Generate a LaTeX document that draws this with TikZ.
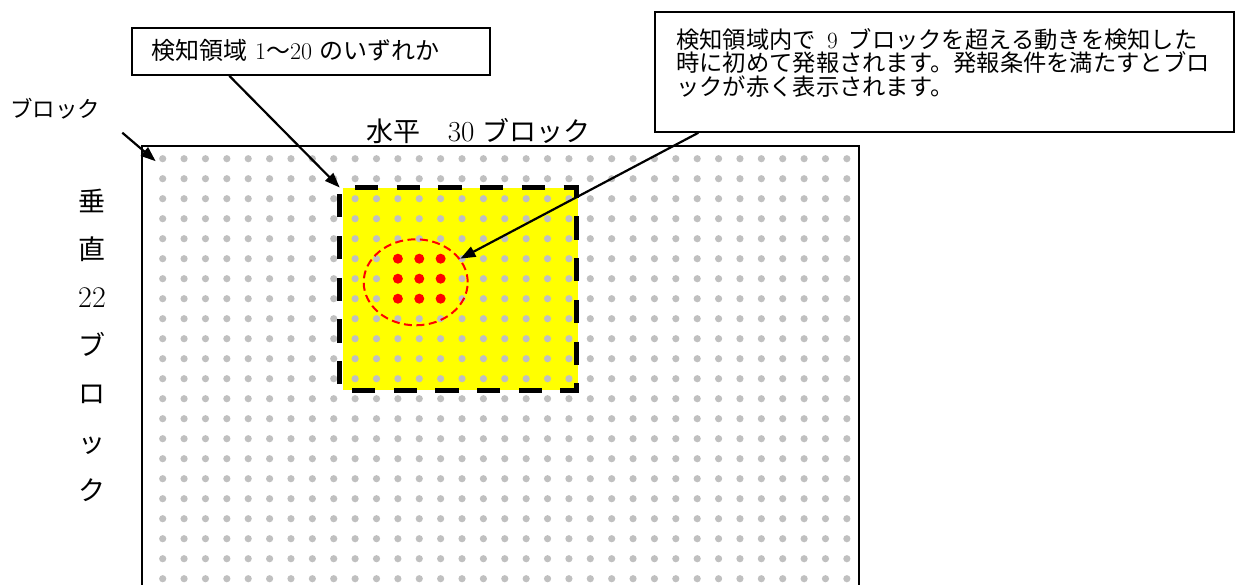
\documentclass[tikz,border=0pt]{standalone}
\usepackage{fontspec}
\newfontfamily\jp{Noto Sans CJK JP}
\usetikzlibrary{arrows.meta,calc,shapes.geometric}
\definecolor{dotgray}{RGB}{192,192,192}
\definecolor{hlyellow}{RGB}{255,255,0}
\definecolor{alarmred}{RGB}{255,0,0}
\begin{document}
\begin{tikzpicture}[x=1pt,y=-1pt,
  arr/.style={line width=2.2pt,-{Triangle[length=15pt,width=11pt]}},
  callout/.style={draw,line width=1.8pt,fill=white,inner sep=0pt,anchor=north west},
  txt/.style={inner sep=0pt},
  griddot/.style={fill=dotgray},
  reddot/.style={fill=alarmred},
  zoneline/.style={line width=5.5pt,dash pattern=on 23.3pt off 18.4pt,dash phase=26.4pt},
  alarmring/.style={ellipse,draw=alarmred,line width=2pt,dash pattern=on 8pt off 4.5pt,inner sep=0pt,minimum width=104pt,minimum height=86pt}
  ]
\useasboundingbox (0,0) rectangle (1239,584);
\clip (0,0) rectangle (1239,584);
% main frame (cut off at the bottom)
\draw[line width=2pt] (141.5,600) -- (141.5,145.5) -- (859,145.5) -- (859,600);
% yellow detection zone
\fill[hlyellow] (342.5,188) rectangle (578,390);
% grid of blocks
\foreach \i in {0,...,32}{
  \foreach \j in {0,...,21}{
    \fill[griddot] (162.7+21.38*\i,158.7+20*\j) circle[radius=3.6pt];
  }
}
% red blocks
\foreach \i in {11,12,13}{
  \foreach \j in {5,6,7}{
    \fill[reddot] (162.7+21.38*\i,158.7+20*\j) circle[radius=5pt];
  }
}
% dashed zone border
\draw[zoneline] (339.7,187.5) -- (576.3,187.5) -- (576.3,390.5) -- (339.7,390.5) -- cycle;
\coordinate (zoneNW) at (339.7,187.5);
% red dashed ring
\node[alarmring] (alarm) at (415.7,282.3) {};
% callout boxes
\node[callout,minimum width=358pt,minimum height=47.3pt] (box1) at (131,26.7) {};
\node[txt,anchor=west,font=\fontsize{24}{28}\selectfont] (box1text) at (151.7,50.4)
  {{\jp 検知領域} 1{\jp ～}20 {\jp のいずれか}};
\node[callout,minimum width=579pt,minimum height=120pt] (box2) at (654,11) {};
\node[txt,anchor=west,align=left,font=\fontsize{23.3}{23.5}\selectfont] (box2text) at (676,63)
  {{\jp 検知領域内で}\hspace{11pt}9\hspace{11pt}{\jp ブロックを超える動きを検知した}\\
   {\jp 時に初めて発報されます。発報条件を満たすとブロ}\\
   {\jp ックが赤く表示されます。}};
% labels
\node[txt,anchor=west,font=\fontsize{22.5}{27}\selectfont] (blk) at (10,109) {\jp ブロック};
\node[txt,anchor=west,font=\fontsize{27}{32}\selectfont] (horiz) at (366.7,130.7)
  {{\jp 水平　}\fontsize{29}{32}\selectfont 30\fontsize{27}{32}\selectfont\ {\jp ブロック}};
\node[txt,align=center,font=\fontsize{27}{48.2}\selectfont] (vert) at (92,345)
  {{\jp 垂}\\{\jp 直}\\{\fontsize{30}{48.2}\selectfont 22}\\{\jp ブ}\\{\jp ロ}\\{\jp ッ}\\{\jp ク}};
% connectors
\coordinate (blkstart) at (122.3,132.7);
\coordinate (blktip) at (155.7,161.2);
\draw[arr] (blkstart) -- (blktip);
\draw[arr] ($(box1.south west)+(98.3,0)$) -- (zoneNW);
\draw[arr] ($(box2.south west)+(44.3,0)$) -- (alarm);
\end{tikzpicture}
\end{document}
